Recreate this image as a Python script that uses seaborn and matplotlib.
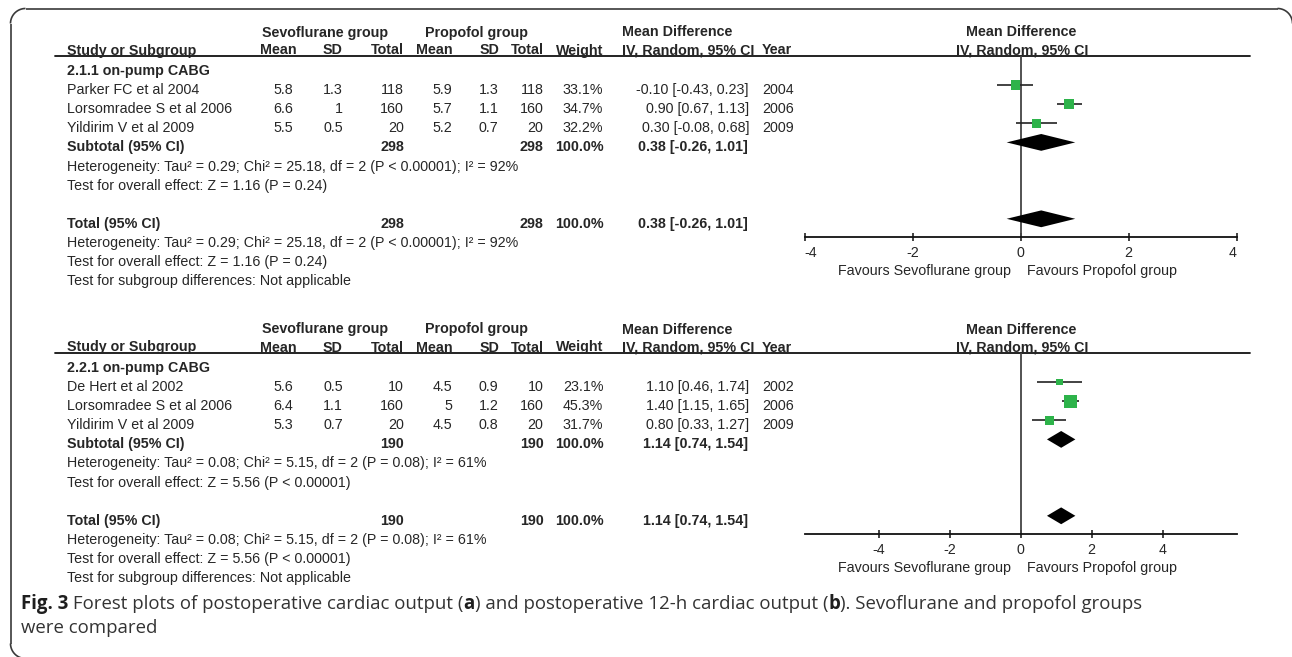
import numpy as np
import matplotlib
matplotlib.use("Agg")
import matplotlib.pyplot as plt
import seaborn as sns
import pandas as pd

sns.set_theme(style="white")
plt.rcParams["font.family"] = ["Liberation Sans", "DejaVu Sans"]

# ---------------- data: panel (a) postoperative cardiac output ----------------
a_subgroup = "2.1.1 on-pump CABG"
a_studies = ["Parker FC et al 2004", "Lorsomradee S et al 2006", "Yildirim V et al 2009"]
a_sevo_mean = [5.8, 6.6, 5.5]
a_sevo_sd = [1.3, 1, 0.5]
a_sevo_n = [118, 160, 20]
a_prop_mean = [5.9, 5.7, 5.2]
a_prop_sd = [1.3, 1.1, 0.7]
a_prop_n = [118, 160, 20]
a_weight = [33.1, 34.7, 32.2]
a_total_weight = 100.0
a_md = [-0.10, 0.90, 0.30]
a_lo = [-0.43, 0.67, -0.08]
a_hi = [0.23, 1.13, 0.68]
a_year = [2004, 2006, 2009]
a_pooled = [0.38, -0.26, 1.01]
a_het = "Heterogeneity: Tau² = 0.29; Chi² = 25.18, df = 2 (P < 0.00001); I² = 92%"
a_effect = "Test for overall effect: Z = 1.16 (P = 0.24)"
a_xlim = [-4, 4]
a_ticks = [-4, -2, 0, 2, 4]

# ---------------- data: panel (b) postoperative 12-h cardiac output ----------------
b_subgroup = "2.2.1 on-pump CABG"
b_studies = ["De Hert et al 2002", "Lorsomradee S et al 2006", "Yildirim V et al 2009"]
b_sevo_mean = [5.6, 6.4, 5.3]
b_sevo_sd = [0.5, 1.1, 0.7]
b_sevo_n = [10, 160, 20]
b_prop_mean = [4.5, 5, 4.5]
b_prop_sd = [0.9, 1.2, 0.8]
b_prop_n = [10, 160, 20]
b_weight = [23.1, 45.3, 31.7]
b_total_weight = 100.0
b_md = [1.10, 1.40, 0.80]
b_lo = [0.46, 1.15, 0.33]
b_hi = [1.74, 1.65, 1.27]
b_year = [2002, 2006, 2009]
b_pooled = [1.14, 0.74, 1.54]
b_het = "Heterogeneity: Tau² = 0.08; Chi² = 5.15, df = 2 (P = 0.08); I² = 61%"
b_effect = "Test for overall effect: Z = 5.56 (P < 0.00001)"
b_xlim = [-6.085, 6.085]
b_ticks = [-4, -2, 0, 2, 4]

subgroup_note = "Test for subgroup differences: Not applicable"
left_label = "Favours Sevoflurane group"
right_label = "Favours Propofol group"
caption_runs = [
    [("Fig. 3", "bold"), (" Forest plots of postoperative cardiac output (", "normal"), ("a", "bold"),
     (") and postoperative 12-h cardiac output (", "normal"), ("b", "bold"),
     ("). Sevoflurane and propofol groups", "normal")],
    [("were compared", "normal")],
]

# ---------------- layout ----------------
W, H = 1292, 657
TXT = "#262626"
GREEN = "#2db34a"
FS = 10.25
ROW = 19.1

fig = plt.figure(figsize=(W / 100, H / 100), dpi=100)
base = fig.add_axes([0, 0, 1, 1])
base.set_xlim(0, W)
base.set_ylim(H, 0)
base.axis("off")

# rounded frame: left and top edges, with the right/bottom edges just past the canvas
R = 15
FL, FT, FR, FB = 10.5, 8.5, 1292.5, 658.5


def arc(cx, cy, t0, t1):
    t = np.linspace(t0, t1, 30)
    return cx + R * np.cos(t), cy + R * np.sin(t)


frame_kw = dict(color="#3a3a3a", lw=1.2, solid_capstyle="butt")
base.plot([FL, FL], [FT + R, FB - R], **frame_kw)
base.plot([FL + R, FR - R], [FT, FT], **frame_kw)
base.plot(*arc(FL + R, FT + R, np.pi, 1.5 * np.pi), **frame_kw)
base.plot(*arc(FR - R, FT + R, 1.5 * np.pi, 2 * np.pi), **frame_kw)
base.plot(*arc(FL + R, FB - R, np.pi, 0.5 * np.pi), **frame_kw)


def txt(x, y, s, ha="left", bold=False, size=FS, color=TXT):
    base.text(x, y + 1, s, ha=ha, va="center", fontsize=size,
              fontweight="bold" if bold else "normal", color=color)


def fmt(v):
    return f"{v:g}"


def panel(first, subgroup, studies, sm, ssd, sn, pm, psd, pn, wt, wt_total, md, lo, hi, yr,
          pooled, het, effect, xlim, ticks, edge_labels):
    y = lambda k: first + ROW * k
    h1, h2 = first - 38.5, first - 20.5
    line_y = first - 14.3
    axis_y = first + 167

    # column headers
    txt(325, h1, "Sevoflurane group", ha="center", bold=True)
    txt(476.5, h1, "Propofol group", ha="center", bold=True)
    txt(622, h1, "Mean Difference", bold=True)
    txt(1021, h1, "Mean Difference", ha="center", bold=True)
    txt(67, h2, "Study or Subgroup", bold=True)
    for x, s in [(297, "Mean"), (342.5, "SD"), (403.5, "Total"), (452.5, "Mean"),
                 (499, "SD"), (544, "Total"), (603.3, "Weight")]:
        txt(x, h2, s, ha="right", bold=True)
    txt(622, h2, "IV, Random, 95% CI", bold=True)
    txt(762, h2, "Year", bold=True)
    txt(1022, h2, "IV, Random, 95% CI", ha="center", bold=True)
    base.plot([55, 1250], [line_y, line_y], color="#111111", lw=1.3)

    # study rows
    txt(67, y(0), subgroup, bold=True)
    n_sev = sum(sn)
    n_pro = sum(pn)
    for i in range(len(studies)):
        k = i + 1
        txt(67, y(k), studies[i])
        txt(293, y(k), fmt(sm[i]), ha="right")
        txt(343, y(k), fmt(ssd[i]), ha="right")
        txt(404, y(k), str(sn[i]), ha="right")
        txt(452.5, y(k), fmt(pm[i]), ha="right")
        txt(498.5, y(k), fmt(psd[i]), ha="right")
        txt(543.5, y(k), str(pn[i]), ha="right")
        txt(603.3, y(k), f"{wt[i]:.1f}%", ha="right")
        txt(749, y(k), f"{md[i]:.2f} [{lo[i]:.2f}, {hi[i]:.2f}]", ha="right")
        txt(762, y(k), str(yr[i]))
    ci_text = f"{pooled[0]:.2f} [{pooled[1]:.2f}, {pooled[2]:.2f}]"
    for k, label in [(4, "Subtotal (95% CI)"), (8, "Total (95% CI)")]:
        txt(67, y(k), label, bold=True)
        txt(404, y(k), str(n_sev), ha="right", bold=True)
        txt(543.5, y(k), str(n_pro), ha="right", bold=True)
        txt(603.3, y(k), f"{wt_total:.1f}%", ha="right", bold=True)
        txt(748, y(k), ci_text, ha="right", bold=True)
    for k in (5, 9):
        txt(67, y(k), het)
    for k in (6, 10):
        txt(67, y(k), effect)
    txt(67, y(11), subgroup_note)

    # forest axes: x in effect units, y in row units
    x0, x1 = 804.7, 1236.7
    ax = fig.add_axes([x0 / W, 1 - axis_y / H, (x1 - x0) / W, (axis_y - line_y) / H])
    ax.patch.set_alpha(0)
    off = 4.0
    ax.set_xlim(*xlim)
    ax.set_ylim((axis_y - first + off) / ROW, (line_y - first + off) / ROW)
    ax.axvline(0, color="#444444", lw=1.3, zorder=1)

    df = pd.DataFrame({"md": md, "lo": lo, "hi": hi, "w": wt,
                       "row": list(range(1, len(md) + 1))})
    ax.hlines(df["row"], df["lo"], df["hi"], color="#222222", lw=1.2, zorder=2)
    side_pt = df["w"] * 0.285 * 0.72
    sns.scatterplot(data=df, x="md", y="row", marker="s", s=side_pt ** 2, color=GREEN,
                    edgecolor="none", linewidth=0, legend=False, ax=ax, zorder=3, clip_on=False)
    half = 0.44
    for k in (4, 8):
        ax.fill([pooled[1], pooled[0], pooled[2], pooled[0]],
                [k, k - half, k, k + half], color="black", lw=0, zorder=3)

    sns.despine(ax=ax, left=True, top=True, right=True)
    ax.spines["bottom"].set_color("#111111")
    ax.spines["bottom"].set_linewidth(1.3)
    ax.set_yticks([])
    ax.set_xticks(ticks)
    ax.set_xticklabels([f"{t:g}" for t in ticks])
    ax.tick_params(axis="x", direction="inout", length=6, width=1.1, color="#111111",
                   labelsize=FS, labelcolor=TXT, pad=3.5, bottom=True)
    for lab, ha in zip(ax.get_xticklabels(), edge_labels):
        lab.set_horizontalalignment(ha)
    ax.set_xlabel("")
    ax.set_ylabel("")
    ax.grid(False)

    zero_px = x0 + (0 - xlim[0]) / (xlim[1] - xlim[0]) * (x1 - x0)
    txt(zero_px - 9.5, axis_y + 33, left_label, ha="right")
    txt(zero_px + 6.5, axis_y + 33, right_label, ha="left")


panel(70, a_subgroup, a_studies, a_sevo_mean, a_sevo_sd, a_sevo_n, a_prop_mean, a_prop_sd,
      a_prop_n, a_weight, a_total_weight, a_md, a_lo, a_hi, a_year, a_pooled, a_het, a_effect,
      a_xlim, a_ticks, ["left", "center", "center", "center", "right"])
panel(367, b_subgroup, b_studies, b_sevo_mean, b_sevo_sd, b_sevo_n, b_prop_mean, b_prop_sd,
      b_prop_n, b_weight, b_total_weight, b_md, b_lo, b_hi, b_year, b_pooled, b_het, b_effect,
      b_xlim, b_ticks, ["center"] * 5)

# caption with mixed weights
renderer = fig.canvas.get_renderer()
cap_font = ["Open Sans", "DejaVu Sans"]
for line, cy in zip(caption_runs, [604, 628]):
    cx = 21
    for s, w in line:
        t = base.text(cx, cy, s, ha="left", va="center", fontsize=13.4, fontweight=w,
                      family=cap_font, color="#333333" if w == "normal" else "#1e1e1e")
        bb = t.get_window_extent(renderer)
        cx += bb.width

fig.savefig("out.png", dpi=100)
